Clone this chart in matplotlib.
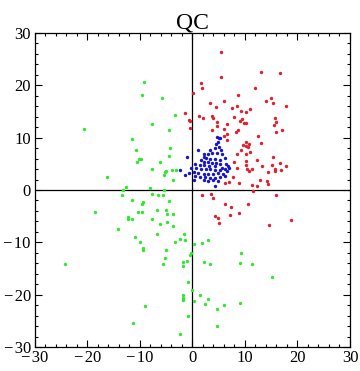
import numpy as np
import matplotlib
matplotlib.use("Agg")
import matplotlib.pyplot as plt
from matplotlib.ticker import MultipleLocator

plt.rcParams['font.family'] = ['Liberation Serif', 'DejaVu Serif']

# green group
green_x = [-9.2, -9.6, -20.7, -11.5, -5.8, -3.3, -7.7, -4.5,
           -10.8, -10.2, -9.8, -10.6, -16.3, -12.7, -13.2, -13.4, -11.5, -9.4, -9.6, -18.6,
           -10.4, -9.6, -12.3, -12.3, -11.5, -14.2, -10.9, -10.0,
           -4.3, -4.5, -6.2, -7.7, -5.0, -5.2, -3.9, -3.1, -5.4, -3.7, -8.1, -5.4, -7.7,
           -6.6, -5.6, -4.5, -6.8, -5.0, -4.9, -3.7, -7.7, -4.9, -6.2, -3.7, -6.8, -1.6,
           -2.4, -3.3, -1.4, 0.3, 1.8,
           -9.4, -9.4, -24.2, -11.3, -9.0,
           3.0, -5.0, -5.2, -5.6, -1.9, -1.9, -1.0, -0.4, -0.2, 2.2, 3.4, 9.3, 9.1,
           -0.8, 0.0, -1.8, -1.9, -1.8, 0.3, 1.5, 3.0, 2.4, 4.7, 6.0, 9.1, -0.8, 4.7, -2.3,
           11.4, 15.2]
green_y = [20.6, 18.2, 11.7, 9.7, 17.6, 14.3, 12.6, 11.5,
           7.6, 5.9, 5.9, 5.4, 2.5, 0.6, 0.0, -1.0, -1.9, -2.3, -2.7, -4.2,
           -4.2, -4.2, -5.2, -5.5, -5.5, -7.5, -9.0, -9.9,
           8.0, 6.5, 5.4, 4.0, 3.6, 3.4, 3.8, 3.8, 2.9, 1.9, 0.4, 0.0, -0.8,
           -1.0, -1.0, -2.1, -3.8, -3.8, -4.6, -4.6, -5.5, -6.1, -6.5, -6.9, -8.4, -8.4,
           -9.4, -9.9, -9.6, -10.3, -10.2,
           -11.0, -11.5, -14.2, -25.5, -22.1,
           -9.6, -11.5, -12.9, -14.2, -13.8, -14.6, -13.6, -12.5, -12.1, -13.8, -14.2, -12.1, -14.0,
           -17.5, -19.2, -20.0, -20.7, -21.1, -21.3, -20.0, -20.9, -21.7, -22.8, -21.9, -21.5, -24.0, -25.9, -27.6,
           -14.2, -16.7]

# red group
red_x = [5.4, 5.4, 1.6, 1.8, 0.1, 8.7, 3.3, 6.0, 4.5, 7.5, 8.5, 9.2, 10.2, 11.0,
         -1.4, 1.2, 2.0, 3.7, 3.9, -0.7, -0.5, 4.7, 6.6, 7.9, 9.0, 9.4, 9.8, 10.2,
         -0.5, 4.7, 6.0, 3.7, 8.7, 8.3, 6.6, 6.0,
         13.0, 16.7, 11.9, 14.0, 15.0, 15.3, 17.8, 15.7, 15.9, 15.5, 17.0, 15.9, 12.5,
         6.6, 8.5, 9.2, 9.6, 7.9, 8.5, 7.7, 6.2, 7.0, 8.9,
         1.8, 3.5, 3.9, 6.2, 7.3, 7.1, 8.9, 4.3, 4.9, 5.0,
         13.1, 10.25, 10.8, 10.6, 10.1, 11.0, 10.1, 15.4, 12.35, 10.25, 16.7, 17.9, 15.2,
         13.3, 10.1, 10.4, 10.8, 11.4, 15.8, 15.8, 16.9, 14.4, 12.9, 14.25, 14.4, 11.4,
         12.2, 11.6, 16.0, 10.6, 14.6, 18.8]
red_y = [26.4, 21.6, 20.5, 19.5, 18.5, 18.2, 16.6, 17.0, 15.9, 15.7, 16.1, 15.1, 14.9, 15.5,
         14.7, 14.1, 13.8, 14.1, 13.8, 13.4, 13.2, 13.0, 12.6, 14.0, 13.2, 13.6, 12.8, 12.8,
         11.9, 12.2, 11.7, 11.5, 11.5, 11.1, 10.7, 10.3,
         22.6, 22.4, 19.5, 17.0, 17.6, 16.6, 16.1, 13.8, 13.0, 12.4, 11.5, 11.1, 10.3,
         9.6, 6.9, 7.6, 8.6, 5.4, 4.2, 2.5, 1.3, 1.5, 1.3,
         -1.0, -0.8, -1.5, -2.7, -3.3, -4.8, -4.4, -5.0, -5.4, -6.3,
         8.9, 9.1, 8.7, 8.2, 8.5, 7.2, 6.8, 6.4, 5.7, 5.5, 5.1, 4.5, 4.7,
         4.5, 4.7, 4.0, 3.6, 4.0, 4.0, 3.6, 3.8, 3.4, 2.0, 1.7, 1.1, 0.9,
         0.7, -0.1, -1.0, -2.7, -6.6, -5.8]

# blue group
blue_x = [5.3, 4.9, 4.5, 4.2, 5.1, 5.5, 3.4, 3.8, 4.7, 5.7, 1.1, 2.25, 3.0, 2.1, 2.6,
          1.7, 3.4, 4.2, 5.3, 6.1, 2.1, 3.0, 3.8, 4.5, 5.3, 6.4, 0.5, 1.5, 2.25, 3.2,
          4.2, 5.7, 6.8, -0.2, 0.7, 1.7, 2.6, 3.4, 4.35, 5.3, 6.25, 7.0, -2.3, -1.0,
          0.2, 1.1, 2.1, 3.0, 4.0, 4.9, 5.9, 6.6, 0.5, 1.5, 2.4, 3.4, 4.35, 5.3, 6.25,
          2.1, 3.0, 4.0, 4.9, 4.2, -0.6, -1.4, 0.2, 4.6, 5.0]
blue_y = [9.9, 9.1, 8.7, 8.0, 8.2, 7.6, 7.6, 7.0, 7.0, 6.8, 7.6, 6.8, 6.8, 6.25, 6.1,
          5.7, 5.9, 5.9, 5.7, 6.1, 5.3, 5.3, 5.1, 5.1, 4.9, 4.9, 4.9, 4.7, 4.7, 4.5,
          4.5, 4.3, 4.5, 4.3, 4.15, 4.0, 4.0, 4.0, 3.8, 3.8, 4.0, 4.15, 3.8, 6.4,
          3.4, 3.2, 3.0, 3.0, 3.0, 3.2, 3.0, 3.6, 2.6, 2.4, 2.4, 2.2, 2.2, 2.4, 2.6,
          1.85, 1.7, 1.85, 1.7, 0.7, 3.2, 2.8, 2.0, 10.2, 10.0]

ticks = [-30, -20, -10, 0, 10, 20, 30]
tick_labels = ['\u2212\u200a30', '\u2212\u200a20', '\u2212\u200a10', '0', '10', '20', '30']

fig = plt.figure(figsize=(3.6, 3.71), dpi=100)
ax = fig.add_axes([0.0972, 0.0647, 0.875, 0.8463])

ax.scatter(green_x, green_y, s=6, c='#30e830', linewidths=0, zorder=3)
ax.scatter(red_x, red_y, s=6, c='#e0202e', linewidths=0, zorder=3)
ax.scatter(blue_x, blue_y, s=6, c='#1515d0', linewidths=0, zorder=3)

ax.axhline(0, color='black', lw=0.9, zorder=2)
ax.axvline(0, color='black', lw=0.9, zorder=2)

ax.set_xlim(-30, 30)
ax.set_ylim(-30, 30)
ax.set_xticks(ticks)
ax.set_xticklabels(tick_labels)
ax.set_yticks(ticks)
ax.set_yticklabels(tick_labels)
ax.xaxis.set_minor_locator(MultipleLocator(2))
ax.yaxis.set_minor_locator(MultipleLocator(2))
ax.tick_params(which='both', direction='in', top=True, right=True, labelsize=12, width=0.8)
ax.tick_params(axis='x', pad=2)
ax.tick_params(axis='y', pad=3)
ax.tick_params(which='major', length=5)
ax.tick_params(which='minor', length=2.5)
for s in ax.spines.values():
    s.set_linewidth(0.9)

ax.set_title('QC', fontsize=17, pad=3)

fig.savefig('out.png', dpi=100)
